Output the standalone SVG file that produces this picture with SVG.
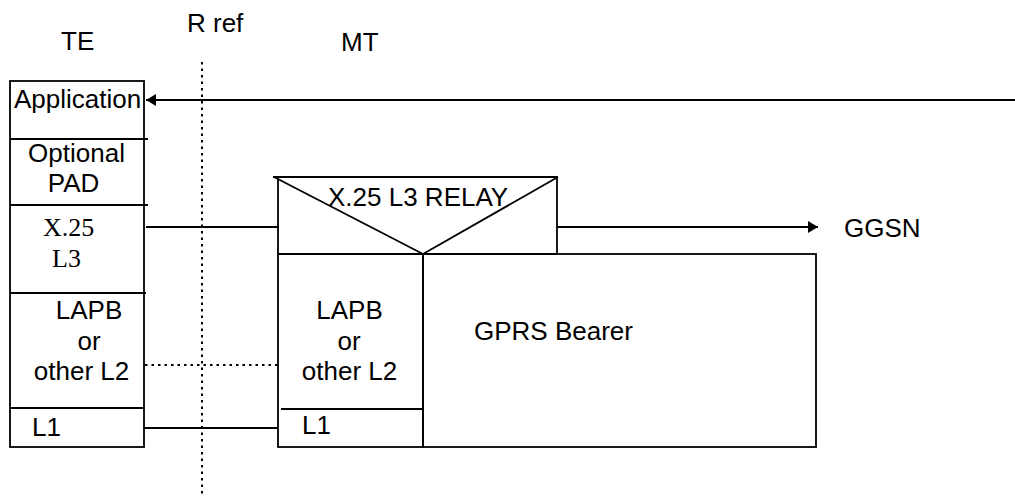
<svg xmlns="http://www.w3.org/2000/svg" width="1015" height="499" viewBox="0 0 1015 499">
<defs>
<style>
.ln{stroke:#000;stroke-width:1.8;fill:none}
.dot{stroke:#000;stroke-width:2;fill:none;stroke-dasharray:2.5,4}
.t{font-family:"Liberation Sans",Arial,sans-serif;font-size:26px;fill:#000}
.tc{font-family:"Liberation Sans",Arial,sans-serif;font-size:26px;fill:#000;text-anchor:middle}
.ts{font-family:"Liberation Serif","Times New Roman",serif;font-size:26px;fill:#000}
</style>
<marker id="ah" viewBox="0 0 10 12" refX="10" refY="6" markerWidth="10" markerHeight="12" markerUnits="userSpaceOnUse" orient="auto">
<path d="M0,0 L10,6 L0,12 Z" fill="#000"/>
</marker>
</defs>
<rect width="1015" height="499" fill="#fff"/>
<g id="labels">
<text class="t" x="61" y="50">TE</text>
<text class="t" x="187" y="32">R ref</text>
<text class="t" x="341" y="51">MT</text>
</g>
<g id="te">
<rect class="ln" x="10" y="81" width="134" height="366"/>
<line class="ln" x1="10" y1="139" x2="148" y2="139"/>
<line class="ln" x1="10" y1="205" x2="148" y2="205"/>
<line class="ln" x1="10" y1="293" x2="146" y2="293"/>
<line class="ln" x1="10" y1="408" x2="144" y2="408"/>
<text class="t" x="14" y="108">Application</text>
<text class="tc" x="76.5" y="162">Optional</text>
<text class="tc" x="73.5" y="192">PAD</text>
<text class="ts" x="43" y="236">X.25</text>
<text class="ts" x="52" y="267">L3</text>
<text class="tc" x="89" y="319">LAPB</text>
<text class="tc" x="89" y="350">or</text>
<text class="tc" x="81.5" y="380">other L2</text>
<text class="t" x="32" y="436">L1</text>
</g>
<g id="relay">
<line class="ln" x1="273" y1="177" x2="558" y2="177"/>
<line class="ln" x1="278" y1="177" x2="278" y2="254"/>
<line class="ln" x1="557" y1="177" x2="557" y2="254"/>
<line class="ln" x1="278" y1="254" x2="557" y2="254"/>
<line class="ln" x1="274" y1="177" x2="423" y2="254"/>
<line class="ln" x1="558" y1="177" x2="423" y2="254"/>
<text class="t" x="328" y="206">X.25 L3 RELAY</text>
</g>
<g id="mt-l2">
<rect class="ln" x="278" y="254" width="145" height="193"/>
<line class="ln" x1="281" y1="409" x2="423" y2="409"/>
<text class="tc" x="349.5" y="319">LAPB</text>
<text class="tc" x="349" y="350">or</text>
<text class="tc" x="349.5" y="380">other L2</text>
<text class="t" x="302" y="434">L1</text>
</g>
<g id="gprs">
<rect class="ln" x="423" y="254" width="393" height="193"/>
<text class="t" x="474" y="340">GPRS Bearer</text>
</g>
<g id="ggsn">
<text class="t" x="844" y="237">GGSN</text>
</g>
<g id="connectors">
<line class="dot" x1="202" y1="62" x2="202" y2="494"/>
<line class="ln" x1="1015" y1="100" x2="146" y2="100" marker-end="url(#ah)"/>
<line class="ln" x1="146" y1="227" x2="279" y2="227"/>
<line class="ln" x1="557" y1="227" x2="818" y2="227" marker-end="url(#ah)"/>
<line class="dot" x1="145" y1="365" x2="278" y2="365"/>
<line class="ln" x1="144" y1="428" x2="278" y2="428"/>
</g>
</svg>
